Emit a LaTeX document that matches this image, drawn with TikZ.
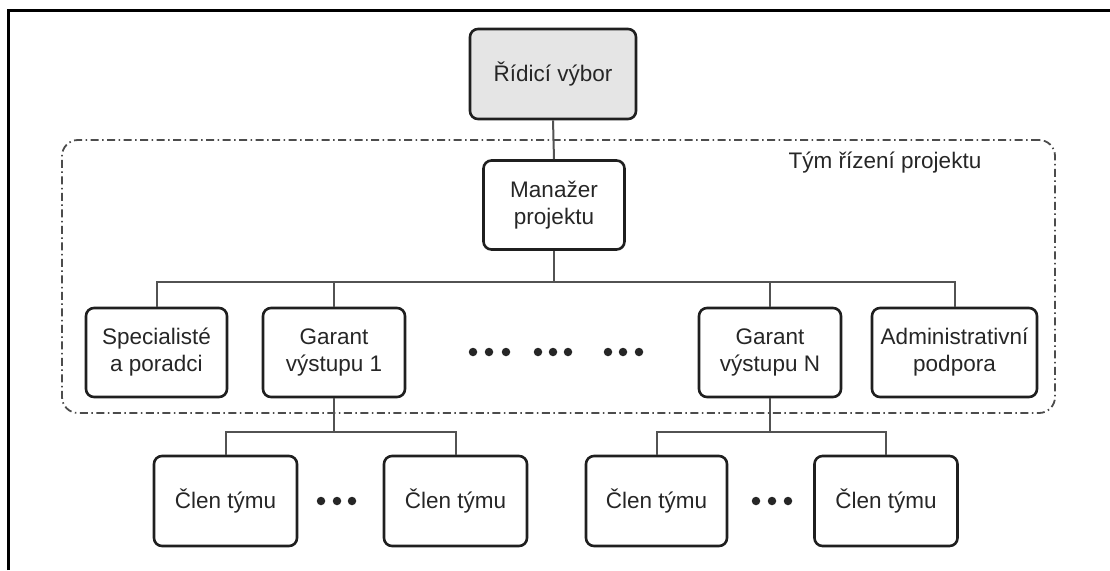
\documentclass[tikz,border=0pt]{standalone}
\usepackage{fontspec}
\setmainfont{Liberation Sans}
\begin{document}
\begin{tikzpicture}[x=1pt,y=-1pt,
  every node/.style={font=\fontsize{22.5}{27}\selectfont, text=black!85},
  box/.style={draw=black!88, line width=2.6pt, rounded corners=8pt, align=center,
    inner sep=0pt, minimum width=141pt, minimum height=89pt},
  conn/.style={draw=black!68, line width=2pt},
  teamframe/.style={draw=black!70, line width=1.8pt, rounded corners=16pt,
    dash pattern=on 8pt off 3.5pt on 1.5pt off 3.5pt, inner sep=0pt},
  dotmark/.style={fill=black!85, draw=none, circle, inner sep=0pt, minimum size=8.5pt}
]
\useasboundingbox (0,0) rectangle (1110,570);
% outer frame (left and top edges)
\draw[line width=3pt, black] (8,570) -- (8,10) -- (1110,10);

% team frame
\node[teamframe, minimum width=993pt, minimum height=273pt] (team) at (558.5,276.5) {};
\node (teamlabel) at (885,163) {Tým řízení projektu};

% nodes
\node[box, fill=black!10, minimum width=166pt, minimum height=90pt] (rid) at (553,74) {Řídicí výbor};
\node[box] (man) at (554,205) {Manažer\\projektu};
\node[box] (spec) at (156.5,352.5) {Specialisté\\a poradci};
\node[box, minimum width=142pt] (g1) at (334,352.5) {Garant\\výstupu 1};
\node[box, minimum width=142pt] (gN) at (770,352.5) {Garant\\výstupu N};
\node[box, minimum width=165pt] (adm) at (954.5,352.5) {Administrativní\\podpora};

\node[box, minimum width=143pt, minimum height=90pt] (c1) at (225.5,501) {Člen týmu};
\node[box, minimum width=143pt, minimum height=90pt] (c2) at (455.5,501) {Člen týmu};
\node[box, minimum width=141pt, minimum height=90pt] (c3) at (656.5,501) {Člen týmu};
\node[box, minimum width=143pt, minimum height=90pt] (c4) at (886,501) {Člen týmu};

% bus coordinates
\coordinate (bus) at (554,282);
\coordinate (busL) at (334,432);
\coordinate (busR) at (770,432);

% connectors
\draw[conn] (rid.south) -- (man.north);
\draw[conn] (man.south) -- (bus);
\draw[conn] (spec.north) |- (bus) -| (adm.north);
\draw[conn] (g1.north) -- (g1.north |- bus);
\draw[conn] (gN.north) -- (gN.north |- bus);
\draw[conn] (g1.south) -- (busL);
\draw[conn] (c1.north) |- (busL) -| (c2.north);
\draw[conn] (gN.south) -- (busR);
\draw[conn] (c3.north) |- (busR) -| (c4.north);

% ellipsis dots
\foreach \x [count=\i] in {473,489,506,538,553,568,608,623,639}
  \node[dotmark] (d\i) at (\x,352) {};
\foreach \x [count=\i] in {321,337,352}
  \node[dotmark] (l\i) at (\x,501) {};
\foreach \x [count=\i] in {756,772,788}
  \node[dotmark] (r\i) at (\x,501) {};
\end{tikzpicture}
\end{document}
